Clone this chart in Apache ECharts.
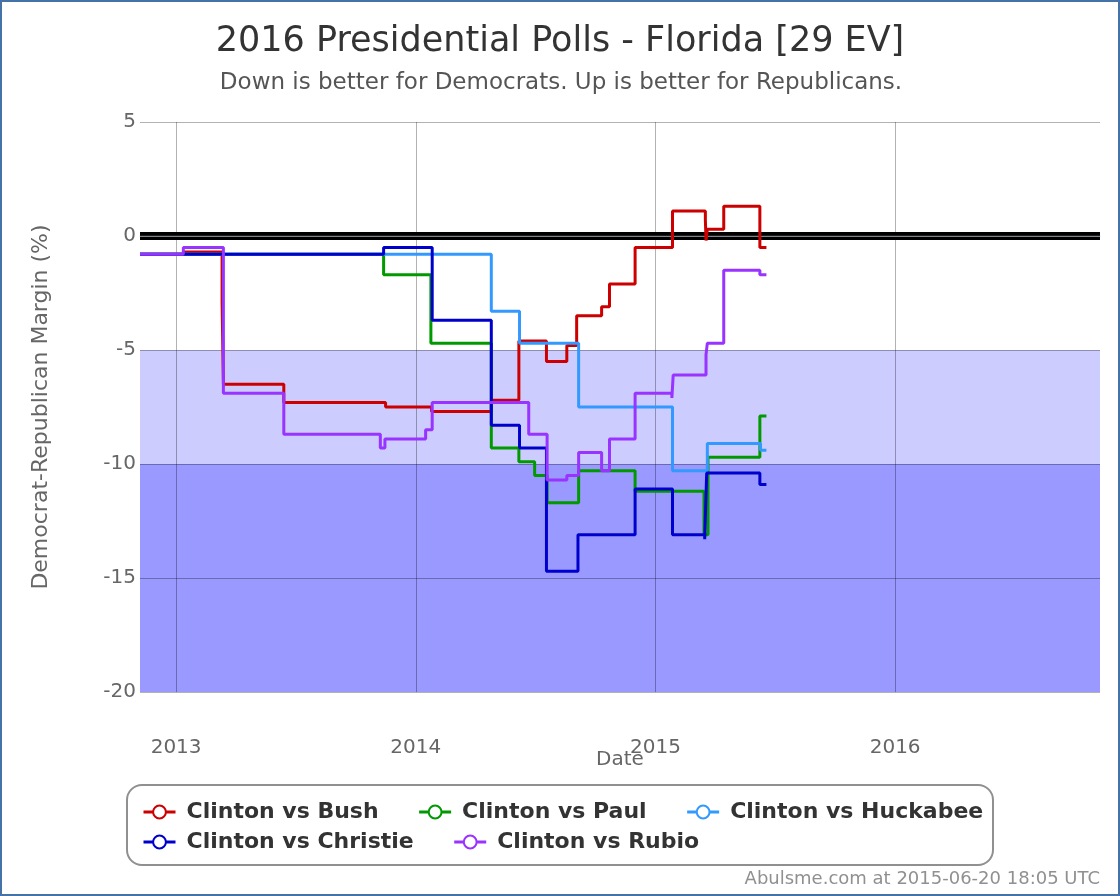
<!DOCTYPE html>
<html>
<head>
<meta charset="utf-8">
<script src="https://cdn.jsdelivr.net/npm/echarts@6/dist/echarts.min.js"></script>
<style>
html,body{margin:0;padding:0;background:#fff;}
#chart{width:1120px;height:896px;}
</style>
</head>
<body>
<div id="chart"></div>
<script>
// ---- Data (date of change, margin value that holds from that date) ----
const xMin = '2012-11-07';
const xMax = '2016-11-08';
const yTicks = [5, 0, -5, -10, -15, -20];

const seriesNames = ['Clinton vs Bush', 'Clinton vs Paul', 'Clinton vs Huckabee', 'Clinton vs Christie', 'Clinton vs Rubio'];
const seriesColors = ['#cc0000', '#009900', '#3399ff', '#0000cc', '#9933ff'];

const bush = [
  ['2012-11-07', -0.8], ['2013-01-12', -0.7], ['2013-03-12', -2.9], ['2013-03-14', -6.5],
  ['2013-06-14', -7.3], ['2013-11-16', -7.5], ['2014-01-25', -7.7], ['2014-04-26', -7.2],
  ['2014-06-07', -4.6], ['2014-07-19', -5.5], ['2014-08-19', -4.8], ['2014-09-03', -3.5],
  ['2014-10-11', -3.1], ['2014-10-23', -2.1], ['2014-12-01', -0.5], ['2015-01-27', 1.1],
  ['2015-03-18', 0.7], ['2015-03-19', -0.2], ['2015-03-21', 0.3], ['2015-04-15', 1.3],
  ['2015-06-09', -0.5], ['2015-06-19', -0.5]
];
const paul = [
  ['2012-11-07', -0.8], ['2013-11-13', -1.7], ['2014-01-24', -4.7], ['2014-04-26', -9.3],
  ['2014-06-07', -9.9], ['2014-07-01', -10.5], ['2014-07-20', -11.7], ['2014-09-06', -10.3],
  ['2014-12-01', -11.2], ['2015-03-16', -13.1], ['2015-03-22', -9.7], ['2015-06-09', -7.9],
  ['2015-06-19', -7.9]
];
const huckabee = [
  ['2012-11-07', -0.8], ['2014-04-26', -3.3], ['2014-06-08', -4.7], ['2014-09-06', -7.5],
  ['2015-01-27', -10.3], ['2015-03-21', -9.1], ['2015-06-10', -9.4], ['2015-06-19', -9.4]
];
const christie = [
  ['2012-11-07', -0.8], ['2013-11-13', -0.5], ['2014-01-26', -3.7], ['2014-04-26', -8.3],
  ['2014-06-08', -9.3], ['2014-07-19', -14.7], ['2014-09-05', -13.1], ['2014-12-01', -11.1],
  ['2015-01-27', -13.1], ['2015-03-17', -13.3], ['2015-03-20', -10.4], ['2015-06-09', -10.9],
  ['2015-06-19', -10.9]
];
const rubio = [
  ['2012-11-07', -0.8], ['2013-01-12', -0.5], ['2013-03-14', -6.9], ['2013-06-14', -8.7],
  ['2013-11-08', -9.3], ['2013-11-15', -8.9], ['2014-01-16', -8.5], ['2014-01-26', -7.3],
  ['2014-06-22', -8.7], ['2014-07-20', -10.7], ['2014-08-19', -10.5], ['2014-09-06', -9.5],
  ['2014-10-11', -10.3], ['2014-10-23', -8.9], ['2014-12-01', -6.9], ['2015-01-26', -7.1],
  ['2015-01-28', -6.1], ['2015-03-19', -5.2], ['2015-03-21', -4.7], ['2015-04-15', -1.5],
  ['2015-06-09', -1.7], ['2015-06-19', -1.7]
];
const seriesData = [bush, paul, huckabee, christie, rubio];

const bands = [[-5, -10, '#ccccff'], [-10, -20, '#9999ff']];

// ---- Chart ----
const FONT = '"DejaVu Sans", sans-serif';
const chart = echarts.init(document.getElementById('chart'), null, {renderer: 'canvas'});

const lineSeries = seriesNames.map((name, i) => ({
  name: name,
  type: 'line',
  step: 'end',
  data: seriesData[i],
  color: seriesColors[i],
  symbol: 'emptyCircle',
  symbolSize: 12,
  showSymbol: false,
  lineStyle: {width: 3, color: seriesColors[i]},
  itemStyle: {color: seriesColors[i], borderWidth: 3},
  emphasis: {disabled: true},
  z: 2
}));

const legendCommon = {
  left: 142, padding: 0, itemGap: 39, itemWidth: 32, itemHeight: 16, selectedMode: false,
  lineStyle: {width: 3}, itemStyle: {borderWidth: 3},
  textStyle: {fontFamily: FONT, fontSize: 22, fontWeight: 'bold', color: '#333333', padding: [0, 0, 0, 6]}
};

const option = {
  animation: false,
  backgroundColor: '#ffffff',
  textStyle: {fontFamily: FONT},
  title: [
    {text: '2016 Presidential Polls - Florida [29 EV]', left: 555, top: 19, textAlign: 'center',
     textStyle: {fontFamily: FONT, fontSize: 35, fontWeight: 'normal', color: '#333333'}},
    {text: 'Down is better for Democrats. Up is better for Republicans.', left: 556, top: 67, textAlign: 'center',
     textStyle: {fontFamily: FONT, fontSize: 23, fontWeight: 'normal', color: '#555555'}}
  ],
  grid: {left: 140, right: 20, top: 122, bottom: 204, containLabel: false},
  xAxis: {
    type: 'time', min: xMin, max: xMax, splitNumber: 4, z: 1,
    name: 'Date', nameLocation: 'middle', nameGap: 58, nameMoveOverlap: false,
    nameTextStyle: {fontFamily: FONT, fontSize: 20, color: '#666666'},
    axisLine: {show: true, lineStyle: {color: '#c0d0e0', width: 1}},
    axisTick: {show: false},
    axisLabel: {margin: 46, fontFamily: FONT, fontSize: 20, color: '#666666', formatter: '{yyyy}',
                showMinLabel: false, showMaxLabel: false},
    splitLine: {show: true, showMinLine: false, showMaxLine: false,
                lineStyle: {color: 'rgba(0,0,0,0.3)', width: 1}}
  },
  yAxis: {
    type: 'value', min: yTicks[yTicks.length - 1], max: yTicks[0], interval: 5, z: 1,
    name: 'Democrat-Republican Margin (%)', nameLocation: 'middle', nameGap: 88, nameMoveOverlap: false,
    nameTextStyle: {fontFamily: FONT, fontSize: 22, color: '#666666'},
    axisLine: {show: false}, axisTick: {show: false},
    axisLabel: {margin: 4, fontFamily: FONT, fontSize: 20, color: '#666666'},
    splitLine: {show: true, lineStyle: {color: 'rgba(0,0,0,0.3)', width: 1}}
  },
  legend: [
    Object.assign({data: seriesNames.slice(0, 3), top: 801}, legendCommon),
    Object.assign({data: seriesNames.slice(3), top: 831}, legendCommon)
  ],
  graphic: [
    {type: 'rect', z: -1, silent: true, shape: {x: 127, y: 785, width: 866, height: 80, r: 15},
     style: {fill: '#ffffff', stroke: '#909090', lineWidth: 2}},
    {type: 'text', silent: true, x: 1100, y: 879,
     style: {text: 'Abulsme.com at 2015-06-20 18:05 UTC', fontFamily: FONT, fontSize: 18, fill: '#909090',
             align: 'right', verticalAlign: 'middle'}},
    {type: 'rect', silent: true, z: 100, shape: {x: 1, y: 1, width: 1118, height: 894},
     style: {fill: 'none', stroke: '#4572a7', lineWidth: 2}}
  ],
  series: [
    {
      name: 'bands', type: 'line', data: [[xMin, 0], [xMax, 0]], z: 0, silent: true,
      showSymbol: false, symbol: 'none', lineStyle: {width: 8, color: '#000000'},
      emphasis: {disabled: true},
      markArea: {silent: true, z: -1, data: bands.map(b => [{yAxis: b[0], itemStyle: {color: b[2]}}, {yAxis: b[1]}])}
    },
    {
      name: 'zeroCenter', type: 'line', data: [[xMin, 0], [xMax, 0]], z: 1, silent: true,
      showSymbol: false, symbol: 'none', lineStyle: {width: 1, color: '#3a3a3a'}, emphasis: {disabled: true}
    }
  ].concat(lineSeries)
};
chart.setOption(option);
</script>
</body>
</html>
